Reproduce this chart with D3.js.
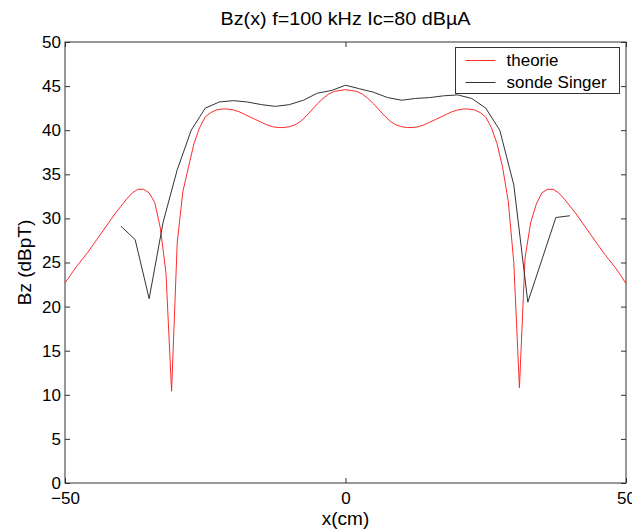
<!DOCTYPE html>
<html>
<head>
<meta charset="utf-8">
<script src="https://cdn.jsdelivr.net/npm/d3@7"></script>
<style>
  html, body { margin: 0; padding: 0; background: #fff; }
  svg { display: block; font-family: "Liberation Sans", Arial, Helvetica, sans-serif; }
</style>
</head>
<body>
<svg id="chart" width="632" height="529"></svg>
<script>
// Theoretical field, sampled every 1 cm from -50 to 50
const theoryX = d3.range(-50, 51, 1);
const theoryY = [
  22.7, 23.6, 24.5, 25.3, 26.1, 27.0, 27.9, 28.8, 29.7, 30.6,   // -50 .. -41
  31.4, 32.2, 32.9, 33.3, 33.3, 32.9, 31.8, 28.9, 23.8, 10.4,   // -40 .. -31
  27.2, 33.0, 35.8, 38.5, 40.3, 41.5, 42.0, 42.3, 42.4, 42.4,   // -30 .. -21
  42.3, 42.1, 41.8, 41.5, 41.2, 40.9, 40.6, 40.4, 40.3, 40.3,   // -20 .. -11
  40.4, 40.6, 41.0, 41.6, 42.3, 43.0, 43.6, 44.1, 44.4, 44.5,   // -10 .. -1
  44.6,                                                         // 0
  44.5, 44.4, 44.1, 43.6, 43.0, 42.3, 41.6, 41.0, 40.6, 40.4,   // 1 .. 10
  40.3, 40.3, 40.4, 40.6, 40.9, 41.2, 41.5, 41.8, 42.1, 42.3,   // 11 .. 20
  42.4, 42.4, 42.3, 42.0, 41.5, 40.3, 38.5, 35.8, 32.0, 25.0,   // 21 .. 30
  10.8, 25.5, 29.5, 31.6, 32.9, 33.3, 33.3, 32.9, 32.2, 31.4,   // 31 .. 40
  30.6, 29.7, 28.8, 27.9, 27.0, 26.1, 25.3, 24.5, 23.6, 22.6    // 41 .. 50
];

// Probe measurements, every 2.5 cm from -40 to 40
const probeX = d3.range(-40, 40.01, 2.5);
const probeY = [
  29.1, 27.6, 20.9, 29.6, 35.5, 40.0, 42.5, 43.2, 43.35, 43.2,
  42.9, 42.7, 42.9, 43.4, 44.2, 44.5, 45.1, 44.7, 44.3, 43.7,
  43.4, 43.6, 43.7, 43.9, 44.0, 43.6, 42.5, 40.0, 33.8, 20.5,
  25.3, 30.1, 30.3
];

const xTicks = [-50, 0, 50];
const yTicks = [0, 5, 10, 15, 20, 25, 30, 35, 40, 45, 50];
const seriesNames = ["theorie", "sonde Singer"];
const seriesColors = ["#ff2a2a", "#333333"];

const margin = { left: 65, right: 6, top: 42, bottom: 46 };
const W = 632, H = 529;
const svg = d3.select("#chart");

const x = d3.scaleLinear().domain([-50, 50]).range([margin.left, W - margin.right]);
const y = d3.scaleLinear().domain([0, 50]).range([H - margin.bottom, margin.top]);

const axisColor = "#333";
const tickLen = 5;

// Frame
svg.append("rect")
  .attr("x", x(-50)).attr("y", y(50))
  .attr("width", x(50) - x(-50)).attr("height", y(0) - y(50))
  .attr("fill", "none").attr("stroke", axisColor).attr("stroke-width", 1);

// Axes with inward ticks
const bottomAxis = d3.axisBottom(x).tickValues(xTicks).tickSize(-tickLen).tickPadding(9);
const topAxis = d3.axisTop(x).tickValues(xTicks).tickSize(-tickLen).tickFormat("");
const leftAxis = d3.axisLeft(y).tickValues(yTicks).tickSize(-tickLen).tickPadding(4);
const rightAxis = d3.axisRight(y).tickValues(yTicks).tickSize(-tickLen).tickFormat("");

function style(g) {
  g.select(".domain").remove();
  g.selectAll(".tick line").attr("stroke", axisColor);
  g.selectAll(".tick text").attr("fill", "#000").attr("font-size", 17)
    .attr("font-family", "Liberation Sans, Arial, sans-serif");
}

svg.append("g").attr("transform", `translate(0,${y(0)})`).call(bottomAxis).call(style)
  .selectAll(".tick text").attr("dy", "0.71em");
svg.append("g").attr("transform", `translate(0,${y(50)})`).call(topAxis).call(style);
svg.append("g").attr("transform", `translate(${x(-50)},0)`).call(leftAxis).call(style);
svg.append("g").attr("transform", `translate(${x(50)},0)`).call(rightAxis).call(style);

// Curves
const line = d3.line().x(d => x(d[0])).y(d => y(d[1]));
svg.append("path")
  .datum(theoryX.map((v, i) => [v, theoryY[i]]))
  .attr("d", line).attr("fill", "none")
  .attr("stroke", seriesColors[0]).attr("stroke-width", 1);
svg.append("path")
  .datum(probeX.map((v, i) => [v, probeY[i]]))
  .attr("d", line).attr("fill", "none")
  .attr("stroke", seriesColors[1]).attr("stroke-width", 1);

// Legend
const lg = svg.append("g").attr("transform", "translate(455.5,47.5)");
lg.append("rect").attr("width", 164).attr("height", 46)
  .attr("fill", "#fff").attr("stroke", axisColor).attr("stroke-width", 1);
seriesNames.forEach((name, i) => {
  const yy = 13 + i * 22;
  lg.append("line").attr("x1", 10).attr("x2", 40).attr("y1", yy).attr("y2", yy)
    .attr("stroke", seriesColors[i]).attr("stroke-width", 1);
  lg.append("text").attr("x", 51).attr("y", yy).attr("dy", "0.35em")
    .attr("font-size", 17).attr("fill", "#000").text(name);
});

// Titles
svg.append("text").attr("x", (x(-50) + x(50)) / 2).attr("y", 25)
  .attr("text-anchor", "middle").attr("font-size", 19).attr("fill", "#000")
  .attr("textLength", 250).attr("lengthAdjust", "spacingAndGlyphs")
  .text("Bz(x) f=100 kHz Ic=80 dBµA");
svg.append("text").attr("x", (x(-50) + x(50)) / 2).attr("y", 525)
  .attr("text-anchor", "middle").attr("font-size", 19).attr("fill", "#000")
  .text("x(cm)");
svg.append("text")
  .attr("transform", `translate(31,${(y(0) + y(50)) / 2}) rotate(-90)`)
  .attr("text-anchor", "middle").attr("font-size", 19).attr("fill", "#000")
  .text("Bz (dBpT)");
</script>
</body>
</html>
